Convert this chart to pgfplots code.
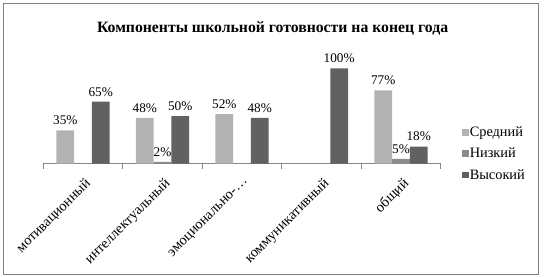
\documentclass[border=0pt]{standalone}
\usepackage{fontspec}
\setmainfont{Liberation Serif}
\usepackage{pgfplots}
\pgfplotsset{compat=1.18}
\definecolor{cS}{RGB}{179,179,179}
\definecolor{cN}{RGB}{140,140,140}
\definecolor{cV}{RGB}{97,97,97}
\definecolor{gridc}{RGB}{134,134,134}
\definecolor{framec}{RGB}{128,128,128}
\begin{document}
\begin{tikzpicture}
\useasboundingbox (0,0) rectangle (546bp,-277bp);
\draw[framec, line width=1bp] (3.3bp,-3.3bp) rectangle (538bp,-274bp);
\node[font=\bfseries\fontsize{15.8}{18}\selectfont] at (272.6bp,-28bp) {Компоненты школьной готовности на конец года};
\begin{axis}[
  at={(43.3bp,-163.7bp)}, anchor=south west,
  scale only axis, width=397.4bp, height=114.4bp,
  xmin=-0.5, xmax=4.5, ymin=0, ymax=120,
  ybar=0pt, bar width=17.7bp,
  axis x line*=bottom, axis y line=none,
  ymajorgrids, ytick={20,40,...,120}, yticklabels={}, ytick style={draw=none},
  grid style={gridc, line width=0.8bp},
  x axis line style={gridc, line width=0.8bp, -},
  xtick={0,1,2,3,4},
  xticklabels={мотивационный,интеллектуальный,эмоционально-…,коммуникативный,общий},
  major tick length=0pt,
  major x tick style={draw=none},
  minor xtick={-0.5,0.5,1.5,2.5,3.5,4.5},
  minor x tick style={gridc, line width=0.8bp},
  minor tick length=5bp, tick align=outside,
  xticklabel style={xshift=1bp, yshift=-13bp, rotate=45, anchor=north east, inner sep=0pt, font=\fontsize{14.4}{16}\selectfont},
  nodes near coords={\pgfmathprintnumber[assume math mode=true]{\pgfplotspointmeta}\%},
  every node near coord/.append style={font=\fontsize{13.3}{15}\selectfont, text=black, yshift=2bp},
  clip=false,
  legend image code/.code={\path[#1] (0bp,-3.3bp) rectangle (6.6bp,3.3bp);},
  legend style={draw=none, fill=none, at={(1.053,0.087)}, anchor=west,
    font=\fontsize{14.4}{16}\selectfont, row sep=7.5bp, inner sep=0pt,
    nodes={inner sep=1.2bp}},
  legend cell align=left,
]
\addplot[fill=cS, draw=none] coordinates {(0,35) (1,48) (2,52) (4,77)};
\addplot[fill=cN, draw=none] coordinates {(1,2) (4,5)};
\addplot[fill=cV, draw=none] coordinates {(0,65) (1,50) (2,48) (3,100) (4,18)};
\legend{Средний,Низкий,Высокий}
\end{axis}
\end{tikzpicture}
\end{document}
